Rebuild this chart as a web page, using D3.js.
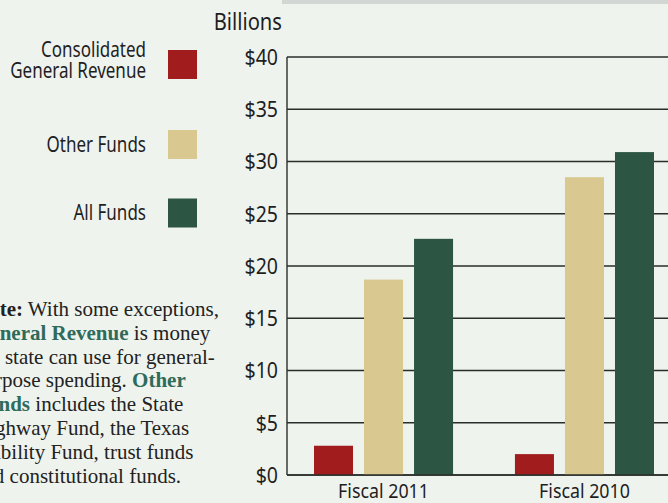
<!DOCTYPE html>
<html>
<head>
<meta charset="utf-8">
<script src="https://cdn.jsdelivr.net/npm/d3@7"></script>
<style>
  body { margin: 0; background: #eff3ee; }
  svg { display: block; }
  .sans { font-family: "Noto Sans", "Open Sans", sans-serif; fill: #1e1e1e; }
  .serif { font-family: "Liberation Serif", "DejaVu Serif", serif; fill: #222; }
</style>
</head>
<body>
<svg id="viz"></svg>
<script>
var width = 668;
var height = 503;

// data (billions of dollars)
var years = ["Fiscal 2011", "Fiscal 2010"];
var series = ["Consolidated General Revenue", "Other Funds", "All Funds"];
var generalRevenue = [2.8, 2.0];
var otherFunds = [18.7, 28.5];
var allFunds = [22.6, 30.9];
var yTicks = [0, 5, 10, 15, 20, 25, 30, 35, 40];
var legendLines = [["Consolidated", "General Revenue"], ["Other Funds"], ["All Funds"]];
var colors = ["#a11d1d", "#d9c990", "#2c5544"];

// note text, one entry per line: [text, bold?, teal?]
var noteLines = [
    [["Note:", true, false], [" With some exceptions,", false, false]],
    [["General Revenue", true, true], [" is money", false, false]],
    [["the state can use for general-", false, false]],
    [["purpose spending. ", false, false], ["Other", true, true]],
    [["Funds", true, true], [" includes the State", false, false]],
    [["Highway Fund, the Texas", false, false]],
    [["Stability Fund, trust funds", false, false]],
    [["and constitutional funds.", false, false]]
];

var values = [generalRevenue, otherFunds, allFunds];
var table = years.map(function (yr, i) {
    return { year: yr, vals: series.map(function (s, j) { return { key: s, idx: j, v: values[j][i] }; }) };
});

// squeeze a text horizontally, the original face is a condensed sans
function condense(sel, k) {
    sel.each(function () {
        var w = this.getComputedTextLength();
        d3.select(this)
            .attr("textLength", w * k)
            .attr("lengthAdjust", "spacingAndGlyphs");
    });
}

var svg = d3.select("#viz")
    .attr("width", width)
    .attr("height", height);

// faint scanner shadow along the top
svg.append("rect")
    .attr("x", 282).attr("y", 0)
    .attr("width", 386).attr("height", 4)
    .attr("fill", "#d3d7d3");

var axisX = 287;

var y = d3.scaleLinear()
    .domain([0, 40])
    .range([475, 57]);

var x0 = d3.scaleBand()
    .domain(years)
    .range([314, 654])
    .paddingInner(0.308)
    .paddingOuter(0);

var x1 = d3.scaleBand()
    .domain(series)
    .range([0, x0.bandwidth()])
    .paddingInner(0.22);

// gridlines
svg.append("g")
    .selectAll("line")
    .data(yTicks)
    .enter().append("line")
    .attr("x1", axisX)
    .attr("x2", width)
    .attr("y1", function (d) { return y(d); })
    .attr("y2", function (d) { return y(d); })
    .attr("stroke", "#2a2e2a")
    .attr("stroke-width", 1.4);

// vertical axis line
svg.append("line")
    .attr("x1", axisX).attr("x2", axisX)
    .attr("y1", y(40)).attr("y2", y(0))
    .attr("stroke", "#2a2e2a")
    .attr("stroke-width", 1.4);

// tick labels
svg.append("g")
    .selectAll("text")
    .data(yTicks)
    .enter().append("text")
    .attr("class", "sans")
    .attr("x", 278)
    .attr("y", function (d) { return y(d); })
    .attr("dy", "0.38em")
    .attr("text-anchor", "end")
    .style("font-size", "21px")
    .text(function (d) { return "$" + d; })
    .call(condense, 0.93);

svg.append("text")
    .attr("class", "sans")
    .attr("x", 282)
    .attr("y", 30)
    .attr("text-anchor", "end")
    .style("font-size", "24px")
    .text("Billions")
    .call(condense, 0.84);

// bars
var groups = svg.append("g")
    .selectAll("g")
    .data(table)
    .enter().append("g")
    .attr("transform", function (d) { return "translate(" + x0(d.year) + ",0)"; });

groups.selectAll("rect")
    .data(function (d) { return d.vals; })
    .enter().append("rect")
    .attr("x", function (d) { return x1(d.key); })
    .attr("width", x1.bandwidth())
    .attr("y", function (d) { return y(d.v); })
    .attr("height", function (d) { return y(0) - y(d.v); })
    .attr("fill", function (d) { return colors[d.idx]; });

// redraw baseline over bars
svg.append("line")
    .attr("x1", axisX).attr("x2", width)
    .attr("y1", y(0)).attr("y2", y(0))
    .attr("stroke", "#2a2e2a")
    .attr("stroke-width", 1.4);

// category labels
svg.append("g")
    .selectAll("text")
    .data(years)
    .enter().append("text")
    .attr("class", "sans")
    .attr("x", function (d) { return x0(d) + x0.bandwidth() / 2; })
    .attr("y", 498)
    .attr("text-anchor", "middle")
    .style("font-size", "20px")
    .text(function (d) { return d; })
    .call(condense, 0.89);

// legend
var legendY = [64.5, 144.5, 213];
var legend = svg.append("g")
    .selectAll("g")
    .data(series)
    .enter().append("g")
    .attr("transform", function (d, i) { return "translate(0," + legendY[i] + ")"; });

legend.append("rect")
    .attr("x", 168)
    .attr("y", -14.5)
    .attr("width", 29)
    .attr("height", 29)
    .attr("fill", function (d, i) { return colors[i]; });

legend.each(function (d, i) {
    var g = d3.select(this);
    var lines = legendLines[i];
    lines.forEach(function (ln, j) {
        g.append("text")
            .attr("class", "sans")
            .attr("text-anchor", "end")
            .attr("x", 146)
            .attr("y", (lines.length > 1 ? -7.5 : 7) + j * 21)
            .style("font-size", "21px")
            .text(ln)
            .call(condense, 0.81);
    });
});

// note
var note = svg.append("g")
    .selectAll("text")
    .data(noteLines)
    .enter().append("text")
    .attr("class", "serif")
    .attr("x", -26)
    .attr("y", function (d, i) { return 316 + i * 23.8; })
    .style("font-size", "21px");

note.selectAll("tspan")
    .data(function (d) { return d; })
    .enter().append("tspan")
    .style("font-weight", function (d) { return d[1] ? "bold" : "normal"; })
    .style("fill", function (d) { return d[2] ? "#2e6b5b" : "#222"; })
    .attr("xml:space", "preserve")
    .text(function (d) { return d[0]; });
</script>
</body>
</html>
